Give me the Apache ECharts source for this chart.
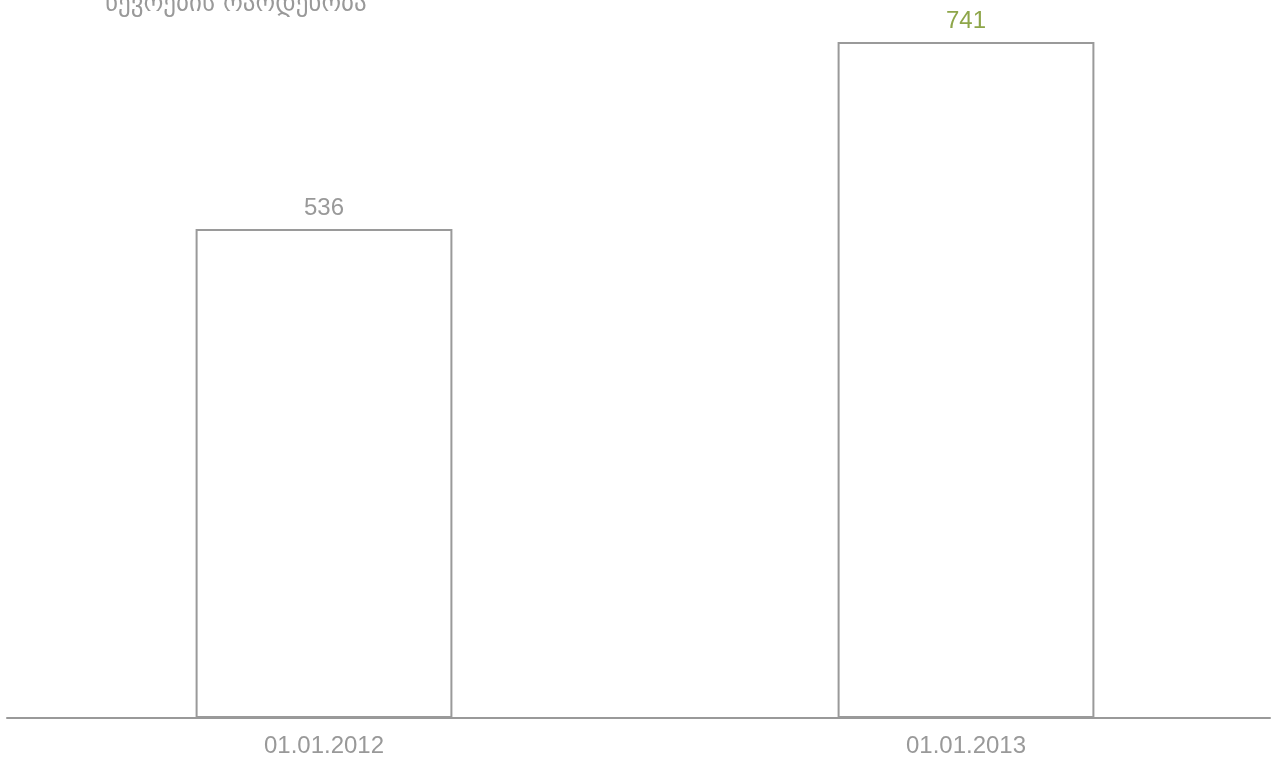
<!DOCTYPE html>
<html>
<head>
<meta charset="utf-8">
<script src="https://cdn.jsdelivr.net/npm/echarts@6/dist/echarts.min.js"></script>
<style>
html,body{margin:0;padding:0;background:#fff;overflow:hidden;}
#chart{width:1288px;height:763px;}
</style>
</head>
<body>
<div id="chart"></div>
<script>
const titleText = 'წევრების რაოდენობა';
const categories = ['01.01.2012', '01.01.2013'];
const values = [536, 741];

const labelColors = ['#999999', '#8ea64a'];

const chart = echarts.init(document.getElementById('chart'));
chart.setOption({
  animation: false,
  backgroundColor: '#ffffff',
  title: {
    text: titleText,
    left: 100,
    top: -13,
    textStyle: { fontFamily: 'DejaVu Sans', fontSize: 25, fontWeight: 'normal', color: '#999999' }
  },
  grid: [
    { left: 3, width: 1284, top: 0, height: 718 },
    { left: 7, width: 1263, top: 0, height: 718 }
  ],
  xAxis: [
    {
      type: 'category', gridIndex: 0, data: categories,
      axisLine: { show: false }, axisTick: { show: false },
      axisLabel: { color: '#999999', fontFamily: 'Liberation Sans', fontSize: 24, margin: 16 }
    },
    {
      type: 'category', gridIndex: 1, data: categories,
      axisLine: { show: true, lineStyle: { color: '#999999', width: 2 } },
      axisTick: { show: false }, axisLabel: { show: false }
    }
  ],
  yAxis: [
    { type: 'value', gridIndex: 0, min: 0, max: 787, show: false, splitLine: { show: false } },
    { type: 'value', gridIndex: 1, min: 0, max: 787, show: false, splitLine: { show: false } }
  ],
  series: [{
    type: 'bar',
    xAxisIndex: 0, yAxisIndex: 0,
    barWidth: '40%',
    z: 1,
    data: values.map((v, i) => ({
      value: v,
      label: { color: labelColors[i] }
    })),
    itemStyle: { color: '#ffffff', borderColor: '#9a9a9a', borderWidth: 2 },
    label: {
      show: true, position: 'top', distance: 9,
      fontFamily: 'Liberation Sans', fontSize: 24
    }
  }, {
    type: 'bar', xAxisIndex: 1, yAxisIndex: 1, data: [], z: 5
  }]
});
</script>
</body>
</html>
